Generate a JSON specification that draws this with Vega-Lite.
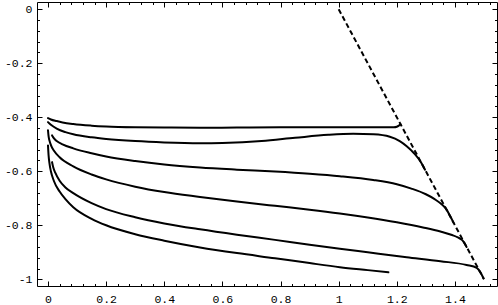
{
  "$schema": "https://vega.github.io/schema/vega-lite/v6.json",
  "autosize": "none",
  "width": 460,
  "height": 284,
  "padding": {"left": 37, "top": 2, "right": 1, "bottom": 19},
  "background": "white",
  "config": {
    "view": {"stroke": "black", "strokeWidth": 1},
    "axis": {
      "domain": false,
      "grid": false,
      "title": null,
      "tickColor": "black",
      "tickWidth": 1,
      "labelFont": "Liberation Mono",
      "labelFontSize": 11.5,
      "labelColor": "black",
      "labelFlush": false,
      "labelOverlap": false
    }
  },
  "datasets": {
    "curves": [
      {"s":"c1","x":0,"y":-0.403},{"s":"c1","x":0.01,"y":-0.408},{"s":"c1","x":0.03,"y":-0.414},{"s":"c1","x":0.05,"y":-0.419},{"s":"c1","x":0.087,"y":-0.425},{"s":"c1","x":0.15,"y":-0.431},{"s":"c1","x":0.2,"y":-0.434},{"s":"c1","x":0.3,"y":-0.437},{"s":"c1","x":0.4,"y":-0.438},{"s":"c1","x":0.523,"y":-0.439},{"s":"c1","x":0.65,"y":-0.438},{"s":"c1","x":0.8,"y":-0.437},{"s":"c1","x":0.95,"y":-0.437},{"s":"c1","x":1.1,"y":-0.437},{"s":"c1","x":1.19,"y":-0.437},{"s":"c1","x":1.2,"y":-0.435},{"s":"c1","x":1.207,"y":-0.431},{"s":"c1","x":1.213,"y":-0.426},
      {"s":"c2","x":0,"y":-0.418},{"s":"c2","x":0.01,"y":-0.428},{"s":"c2","x":0.03,"y":-0.442},{"s":"c2","x":0.06,"y":-0.455},{"s":"c2","x":0.087,"y":-0.463},{"s":"c2","x":0.15,"y":-0.474},{"s":"c2","x":0.2,"y":-0.48},{"s":"c2","x":0.3,"y":-0.488},{"s":"c2","x":0.4,"y":-0.493},{"s":"c2","x":0.523,"y":-0.496},{"s":"c2","x":0.6,"y":-0.495},{"s":"c2","x":0.735,"y":-0.488},{"s":"c2","x":0.85,"y":-0.476},{"s":"c2","x":0.964,"y":-0.465},{"s":"c2","x":1.05,"y":-0.461},{"s":"c2","x":1.12,"y":-0.463},{"s":"c2","x":1.176,"y":-0.472},{"s":"c2","x":1.21,"y":-0.488},{"s":"c2","x":1.234,"y":-0.507},{"s":"c2","x":1.26,"y":-0.534},{"s":"c2","x":1.284,"y":-0.568},{"s":"c2","x":1.297,"y":-0.594},
      {"s":"c3","x":0.014,"y":-0.467},{"s":"c3","x":0.02,"y":-0.477},{"s":"c3","x":0.03,"y":-0.488},{"s":"c3","x":0.05,"y":-0.5},{"s":"c3","x":0.087,"y":-0.515},{"s":"c3","x":0.15,"y":-0.533},{"s":"c3","x":0.2,"y":-0.545},{"s":"c3","x":0.3,"y":-0.562},{"s":"c3","x":0.4,"y":-0.575},{"s":"c3","x":0.523,"y":-0.586},{"s":"c3","x":0.65,"y":-0.594},{"s":"c3","x":0.781,"y":-0.601},{"s":"c3","x":0.9,"y":-0.609},{"s":"c3","x":1.004,"y":-0.618},{"s":"c3","x":1.119,"y":-0.632},{"s":"c3","x":1.2,"y":-0.648},{"s":"c3","x":1.25,"y":-0.664},{"s":"c3","x":1.3,"y":-0.685},{"s":"c3","x":1.33,"y":-0.703},{"s":"c3","x":1.355,"y":-0.723},{"s":"c3","x":1.37,"y":-0.74},{"s":"c3","x":1.382,"y":-0.763},{"s":"c3","x":1.395,"y":-0.79},
      {"s":"c4","x":0,"y":-0.448},{"s":"c4","x":0.002,"y":-0.47},{"s":"c4","x":0.006,"y":-0.49},{"s":"c4","x":0.012,"y":-0.508},{"s":"c4","x":0.02,"y":-0.523},{"s":"c4","x":0.04,"y":-0.548},{"s":"c4","x":0.087,"y":-0.582},{"s":"c4","x":0.15,"y":-0.612},{"s":"c4","x":0.2,"y":-0.63},{"s":"c4","x":0.3,"y":-0.657},{"s":"c4","x":0.4,"y":-0.677},{"s":"c4","x":0.523,"y":-0.695},{"s":"c4","x":0.65,"y":-0.712},{"s":"c4","x":0.781,"y":-0.728},{"s":"c4","x":0.9,"y":-0.742},{"s":"c4","x":1.004,"y":-0.756},{"s":"c4","x":1.1,"y":-0.771},{"s":"c4","x":1.2,"y":-0.789},{"s":"c4","x":1.29,"y":-0.808},{"s":"c4","x":1.35,"y":-0.823},{"s":"c4","x":1.39,"y":-0.836},{"s":"c4","x":1.41,"y":-0.845},{"s":"c4","x":1.425,"y":-0.855},{"s":"c4","x":1.44,"y":-0.88},
      {"s":"c5","x":0.014,"y":-0.566},{"s":"c5","x":0.018,"y":-0.585},{"s":"c5","x":0.025,"y":-0.605},{"s":"c5","x":0.04,"y":-0.635},{"s":"c5","x":0.06,"y":-0.66},{"s":"c5","x":0.087,"y":-0.681},{"s":"c5","x":0.15,"y":-0.718},{"s":"c5","x":0.2,"y":-0.74},{"s":"c5","x":0.3,"y":-0.77},{"s":"c5","x":0.4,"y":-0.793},{"s":"c5","x":0.523,"y":-0.815},{"s":"c5","x":0.65,"y":-0.835},{"s":"c5","x":0.781,"y":-0.854},{"s":"c5","x":0.9,"y":-0.872},{"s":"c5","x":1.004,"y":-0.887},{"s":"c5","x":1.1,"y":-0.9},{"s":"c5","x":1.234,"y":-0.918},{"s":"c5","x":1.35,"y":-0.933},{"s":"c5","x":1.44,"y":-0.947},{"s":"c5","x":1.475,"y":-0.958},{"s":"c5","x":1.488,"y":-0.975},{"s":"c5","x":1.498,"y":-0.996},
      {"s":"c6","x":0,"y":-0.504},{"s":"c6","x":0.002,"y":-0.54},{"s":"c6","x":0.005,"y":-0.57},{"s":"c6","x":0.01,"y":-0.6},{"s":"c6","x":0.02,"y":-0.635},{"s":"c6","x":0.04,"y":-0.675},{"s":"c6","x":0.06,"y":-0.703},{"s":"c6","x":0.087,"y":-0.733},{"s":"c6","x":0.15,"y":-0.776},{"s":"c6","x":0.2,"y":-0.8},{"s":"c6","x":0.3,"y":-0.833},{"s":"c6","x":0.4,"y":-0.857},{"s":"c6","x":0.523,"y":-0.882},{"s":"c6","x":0.65,"y":-0.903},{"s":"c6","x":0.781,"y":-0.922},{"s":"c6","x":0.9,"y":-0.94},{"s":"c6","x":1.004,"y":-0.955},{"s":"c6","x":1.1,"y":-0.966},{"s":"c6","x":1.171,"y":-0.974}
    ],
    "limit": [
      {"x": 1.0, "y": 0.0},
      {"x": 1.5, "y": -1.0}
    ]
  },
  "resolve": {"axis": {"x": "independent", "y": "independent"}},
  "layer": [
    {
      "data": {"name": "curves"},
      "mark": {"type": "line", "color": "black", "strokeWidth": 2, "interpolate": "monotone", "strokeJoin": "round", "strokeCap": "round", "clip": true},
      "encoding": {
        "x": {
          "field": "x", "type": "quantitative",
          "scale": {"domain": [-0.0378, 1.5446], "nice": false, "zero": false},
          "axis": {
            "orient": "bottom",
            "values": [0,0.04,0.08,0.12,0.16,0.2,0.24,0.28,0.32,0.36,0.4,0.44,0.48,0.52,0.56,0.6,0.64,0.68,0.72,0.76,0.8,0.84,0.88,0.92,0.96,1,1.04,1.08,1.12,1.16,1.2,1.24,1.28,1.32,1.36,1.4,1.44,1.48,1.52],
            "tickSize": {"condition": {"test": "abs(datum.value*5 - round(datum.value*5)) < 0.001", "value": -5}, "value": -2.5},
            "labelPadding": 12,
            "labelExpr": "abs(datum.value*5 - round(datum.value*5)) < 0.001 ? format(datum.value, '~g') : ''"
          }
        },
        "y": {
          "field": "y", "type": "quantitative",
          "scale": {"domain": [-1.0248, 0.027], "nice": false, "zero": false},
          "axis": {
            "orient": "left",
            "values": [0,-0.04,-0.08,-0.12,-0.16,-0.2,-0.24,-0.28,-0.32,-0.36,-0.4,-0.44,-0.48,-0.52,-0.56,-0.6,-0.64,-0.68,-0.72,-0.76,-0.8,-0.84,-0.88,-0.92,-0.96,-1],
            "tickSize": {"condition": {"test": "abs(datum.value*5 - round(datum.value*5)) < 0.001", "value": -5}, "value": -2.5},
            "labelPadding": 10,
            "labelExpr": "abs(datum.value*5 - round(datum.value*5)) < 0.001 ? (datum.value < -0.0001 ? '-' : '') + format(abs(datum.value), '~g') : ''"
          }
        },
        "detail": {"field": "s", "type": "nominal"}
      }
    },
    {
      "data": {"name": "limit"},
      "mark": {"type": "line", "color": "black", "strokeWidth": 2, "strokeDash": [5, 3], "clip": true},
      "encoding": {
        "x": {
          "field": "x", "type": "quantitative",
          "axis": {
            "orient": "top",
            "labels": false,
            "values": [0,0.04,0.08,0.12,0.16,0.2,0.24,0.28,0.32,0.36,0.4,0.44,0.48,0.52,0.56,0.6,0.64,0.68,0.72,0.76,0.8,0.84,0.88,0.92,0.96,1,1.04,1.08,1.12,1.16,1.2,1.24,1.28,1.32,1.36,1.4,1.44,1.48,1.52],
            "tickSize": {"condition": {"test": "abs(datum.value*5 - round(datum.value*5)) < 0.001", "value": -5}, "value": -2.5}
          }
        },
        "y": {
          "field": "y", "type": "quantitative",
          "axis": {
            "orient": "right",
            "labels": false,
            "values": [0,-0.04,-0.08,-0.12,-0.16,-0.2,-0.24,-0.28,-0.32,-0.36,-0.4,-0.44,-0.48,-0.52,-0.56,-0.6,-0.64,-0.68,-0.72,-0.76,-0.8,-0.84,-0.88,-0.92,-0.96,-1],
            "tickSize": {"condition": {"test": "abs(datum.value*5 - round(datum.value*5)) < 0.001", "value": -5}, "value": -2.5}
          }
        }
      }
    }
  ]
}
